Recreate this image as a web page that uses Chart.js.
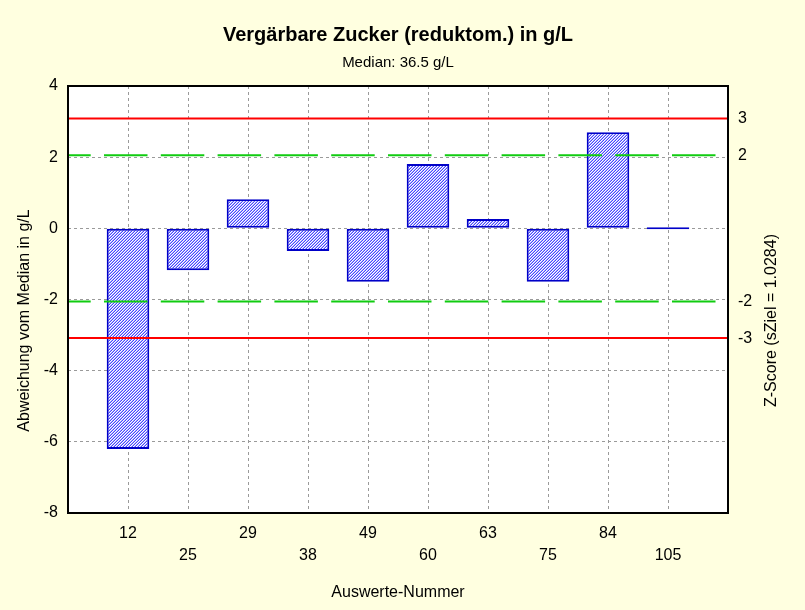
<!DOCTYPE html>
<html>
<head>
<meta charset="utf-8">
<script src="https://cdn.jsdelivr.net/npm/chart.js@4"></script>
<style>
  html, body { margin: 0; padding: 0; background: #ffffe0; }
</style>
</head>
<body>
<canvas id="chart" width="805" height="610"></canvas>
<script>
// values
const categories = ['12', '25', '29', '38', '49', '60', '63', '75', '84', '105'];
const deviations = [-6.2, -1.18, 0.82, -0.64, -1.5, 1.81, 0.26, -1.5, 2.7, 0];
const yTicks = [-8, -6, -4, -2, 0, 2, 4];
const zTicks = [-3, -2, 2, 3];
const sZiel = 1.0284;
const warnZ = 2;
const actionZ = 3;

const titleText = 'Vergärbare Zucker (reduktom.) in g/L';
const subtitleText = 'Median: 36.5 g/L';
const xTitle = 'Auswerte-Nummer';
const yTitle = 'Abweichung vom Median in g/L';
const zTitle = 'Z-Score (sZiel = 1.0284)';

const FONT = '"Liberation Sans", Arial, Helvetica, sans-serif';
Chart.defaults.font.family = FONT;
Chart.defaults.color = '#000';

// empty slot on both ends, like the original axis
const labels = ['', ...categories, ''];
const barData = [null, ...deviations, null];
const level = v => labels.map(() => v);

// fine "/" hatching, 3px period
function hatch() {
  const n = 3;
  const c = document.createElement('canvas');
  c.width = c.height = n;
  const g = c.getContext('2d');
  const img = g.createImageData(n, n);
  for (let y = 0; y < n; y++) {
    for (let x = 0; x < n; x++) {
      const k = (x + y) % n;
      let col = [255, 255, 255];
      if (k === 2) col = [70, 70, 255];
      else if (k === 1) col = [175, 175, 255];
      const i = (y * n + x) * 4;
      img.data[i] = col[0]; img.data[i + 1] = col[1]; img.data[i + 2] = col[2]; img.data[i + 3] = 255;
    }
  }
  g.putImageData(img, 0, 0);
  return g.createPattern(c, 'repeat');
}

const frame = {
  id: 'frame',
  beforeDraw(chart) {
    const { ctx, chartArea: a } = chart;
    ctx.save();
    ctx.fillStyle = '#ffffe0';
    ctx.fillRect(0, 0, chart.width, chart.height);
    ctx.fillStyle = '#fff';
    ctx.fillRect(a.left, a.top, a.right - a.left, a.bottom - a.top);
    ctx.restore();
  },
  afterDraw(chart) {
    const { ctx, chartArea: a } = chart;
    ctx.save();
    ctx.strokeStyle = '#000';
    ctx.lineWidth = 2;
    ctx.strokeRect(a.left, a.top, a.right - a.left, a.bottom - a.top);
    ctx.fillStyle = '#000';
    ctx.font = '16px ' + FONT;
    ctx.textAlign = 'center';
    ctx.textBaseline = 'middle';
    const cy = (a.top + a.bottom) / 2 + 21;
    [[25, yTitle], [772, zTitle]].forEach(([x, t]) => {
      ctx.save();
      ctx.translate(x, cy);
      ctx.rotate(-Math.PI / 2);
      ctx.fillText(t, 0, 0);
      ctx.restore();
    });
    ctx.restore();
  }
};

const ctx = document.getElementById('chart').getContext('2d');
new Chart(ctx, {
  type: 'bar',
  data: {
    labels: labels,
    datasets: [
      {
        data: barData,
        backgroundColor: hatch(),
        borderColor: '#0000c8',
        borderWidth: 2,
        borderSkipped: false,
        barPercentage: 0.71,
        categoryPercentage: 1,
        minBarLength: 2,
        order: 2
      },
      {
        type: 'line',
        data: level(actionZ * sZiel),
        borderColor: '#ff0000',
        borderWidth: 2,
        pointRadius: 0,
        order: 1
      },
      {
        type: 'line',
        data: level(-actionZ * sZiel),
        borderColor: '#ff0000',
        borderWidth: 2,
        pointRadius: 0,
        order: 1
      },
      {
        type: 'line',
        data: level(warnZ * sZiel),
        borderColor: '#10cc10',
        borderWidth: 2,
        borderDash: [43.5, 13.3],
        borderDashOffset: 20.8,
        pointRadius: 0,
        order: 1
      },
      {
        type: 'line',
        data: level(-warnZ * sZiel),
        borderColor: '#10cc10',
        borderWidth: 2,
        borderDash: [43.5, 13.3],
        borderDashOffset: 20.8,
        pointRadius: 0,
        order: 1
      }
    ]
  },
  options: {
    responsive: false,
    animation: false,
    layout: { padding: 0 },
    plugins: {
      legend: { display: false },
      tooltip: { enabled: false },
      title: {
        display: true,
        text: titleText,
        fullSize: false,
        font: { size: 20, weight: 'bold', lineHeight: 1.2 },
        padding: { top: 23, bottom: 3 }
      },
      subtitle: {
        display: true,
        text: subtitleText,
        fullSize: false,
        font: { size: 15, lineHeight: 1.2 },
        padding: { top: 4, bottom: 14 }
      }
    },
    scales: {
      x: {
        offset: false,
        grid: { offset: false, color: '#9a9a9a', drawTicks: false },
        border: { display: false, dash: [3, 3] },
        ticks: {
          autoSkip: false,
          maxRotation: 0,
          padding: 10,
          font: { size: 16, lineHeight: '22px' },
          callback: (v, i) => {
            if (i === 0 || i === labels.length - 1) return '';
            return (i - 1) % 2 === 0 ? labels[i] : ['', labels[i]];
          }
        },
        title: {
          display: true,
          text: xTitle,
          font: { size: 16, lineHeight: 1.2 },
          padding: { top: 0, bottom: 8 }
        },
        afterFit: s => { s.height = 97; }
      },
      y: {
        position: 'left',
        min: yTicks[0],
        max: yTicks[yTicks.length - 1],
        grid: { color: '#9a9a9a', drawTicks: false },
        border: { display: false, dash: [3, 3] },
        ticks: { stepSize: 2, padding: 10, font: { size: 16 } },
        afterBuildTicks: s => { s.ticks = yTicks.map(v => ({ value: v })); },
        afterFit: s => { s.width = 68; }
      },
      z: {
        position: 'right',
        min: yTicks[0] / sZiel,
        max: yTicks[yTicks.length - 1] / sZiel,
        grid: { display: false, drawTicks: false },
        border: { display: false },
        ticks: { padding: 10, font: { size: 16 } },
        afterBuildTicks: s => { s.ticks = zTicks.map(v => ({ value: v })); },
        afterFit: s => { s.width = 77; }
      }
    }
  },
  plugins: [frame]
});
</script>
</body>
</html>
